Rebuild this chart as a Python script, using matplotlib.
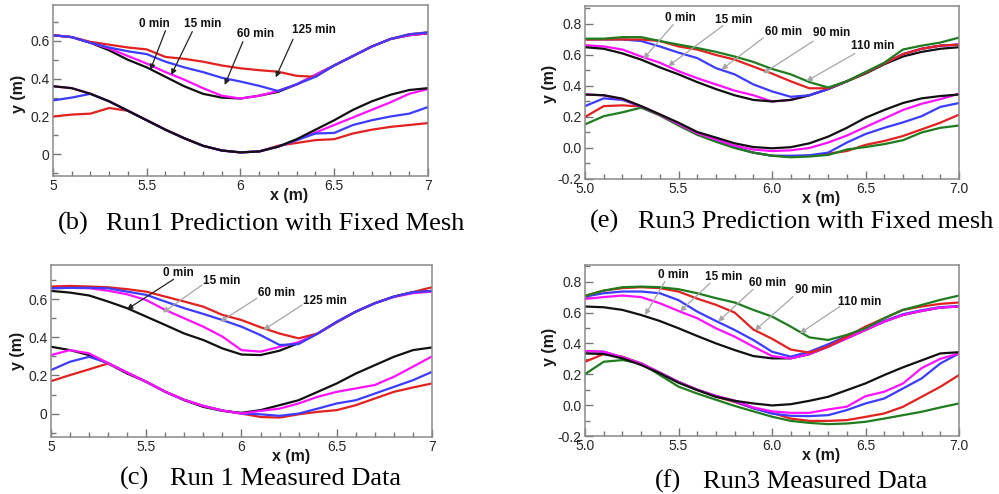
import matplotlib
matplotlib.use('Agg')
import matplotlib.pyplot as plt
from matplotlib.ticker import MultipleLocator, FuncFormatter

xs = [5.0, 5.1, 5.2, 5.3, 5.4, 5.5, 5.6, 5.7, 5.8, 5.9, 6.0,
      6.1, 6.2, 6.3, 6.4, 6.5, 6.6, 6.7, 6.8, 6.9, 7.0]

# ---- (b) Run1 prediction, fixed mesh ----
b_up_0 = [0.63, 0.62, 0.59, 0.55, 0.50, 0.46, 0.41, 0.36, 0.32, 0.30, 0.295, 0.31, 0.33, 0.37, 0.42, 0.47, 0.52, 0.57, 0.61, 0.63, 0.64]
b_up_15 = [0.63, 0.62, 0.59, 0.56, 0.52, 0.48, 0.435, 0.395, 0.35, 0.31, 0.295, 0.31, 0.335, 0.37, 0.42, 0.47, 0.52, 0.57, 0.61, 0.63, 0.64]
b_up_60 = [0.63, 0.62, 0.59, 0.565, 0.545, 0.53, 0.49, 0.46, 0.435, 0.405, 0.385, 0.362, 0.335, 0.37, 0.41, 0.47, 0.52, 0.57, 0.61, 0.635, 0.645]
b_up_125 = [0.63, 0.62, 0.595, 0.58, 0.565, 0.555, 0.515, 0.505, 0.49, 0.47, 0.455, 0.445, 0.437, 0.415, 0.41, 0.47, 0.52, 0.57, 0.61, 0.635, 0.645]
b_lo_0 = [0.36, 0.35, 0.32, 0.28, 0.23, 0.18, 0.13, 0.085, 0.045, 0.02, 0.01, 0.015, 0.04, 0.08, 0.13, 0.18, 0.235, 0.28, 0.315, 0.34, 0.35]
b_lo_15 = [0.36, 0.35, 0.32, 0.28, 0.23, 0.18, 0.13, 0.085, 0.045, 0.02, 0.01, 0.015, 0.04, 0.075, 0.115, 0.155, 0.195, 0.235, 0.275, 0.32, 0.345]
b_lo_60 = [0.285, 0.30, 0.32, 0.28, 0.23, 0.18, 0.13, 0.085, 0.045, 0.02, 0.01, 0.015, 0.04, 0.075, 0.11, 0.113, 0.155, 0.18, 0.20, 0.215, 0.25]
b_lo_125 = [0.20, 0.21, 0.215, 0.245, 0.23, 0.18, 0.13, 0.085, 0.045, 0.02, 0.01, 0.015, 0.045, 0.06, 0.075, 0.08, 0.11, 0.13, 0.145, 0.155, 0.165]

# ---- (e) Run3 prediction, fixed mesh ----
e_up_0 = [0.65, 0.64, 0.61, 0.57, 0.52, 0.475, 0.425, 0.38, 0.34, 0.31, 0.30, 0.31, 0.34, 0.38, 0.43, 0.48, 0.54, 0.59, 0.62, 0.64, 0.65]
e_up_15 = [0.663, 0.655, 0.635, 0.59, 0.55, 0.495, 0.45, 0.41, 0.37, 0.34, 0.30, 0.31, 0.34, 0.38, 0.43, 0.485, 0.545, 0.605, 0.64, 0.66, 0.667]
e_up_60 = [0.70, 0.70, 0.70, 0.69, 0.655, 0.615, 0.58, 0.515, 0.475, 0.41, 0.365, 0.33, 0.34, 0.38, 0.43, 0.485, 0.545, 0.605, 0.64, 0.66, 0.667]
e_up_90 = [0.70, 0.70, 0.70, 0.70, 0.69, 0.655, 0.635, 0.60, 0.57, 0.525, 0.48, 0.43, 0.385, 0.385, 0.43, 0.485, 0.545, 0.605, 0.64, 0.66, 0.667]
e_up_110 = [0.705, 0.705, 0.715, 0.715, 0.69, 0.667, 0.645, 0.62, 0.59, 0.555, 0.51, 0.475, 0.425, 0.39, 0.43, 0.49, 0.55, 0.635, 0.66, 0.68, 0.712]
e_lo_0 = [0.345, 0.34, 0.318, 0.27, 0.217, 0.163, 0.103, 0.067, 0.03, 0.006, -0.002, 0.005, 0.03, 0.073, 0.13, 0.195, 0.245, 0.29, 0.32, 0.335, 0.345]
e_lo_15 = [0.345, 0.34, 0.315, 0.268, 0.215, 0.155, 0.095, 0.055, 0.015, -0.01, -0.02, -0.015, 0.0, 0.035, 0.08, 0.135, 0.19, 0.245, 0.285, 0.315, 0.35]
e_lo_60 = [0.27, 0.32, 0.31, 0.268, 0.213, 0.15, 0.09, 0.045, 0.005, -0.03, -0.05, -0.05, -0.047, -0.03, 0.035, 0.09, 0.13, 0.165, 0.205, 0.265, 0.29]
e_lo_90 = [0.20, 0.27, 0.275, 0.268, 0.213, 0.15, 0.09, 0.045, 0.003, -0.03, -0.05, -0.055, -0.05, -0.037, -0.02, 0.02, 0.045, 0.077, 0.12, 0.163, 0.215]
e_lo_110 = [0.152, 0.205, 0.23, 0.26, 0.21, 0.145, 0.085, 0.04, 0.0, -0.03, -0.05, -0.06, -0.055, -0.045, -0.01, 0.006, 0.025, 0.05, 0.10, 0.13, 0.145]

# ---- (c) Run1 measured ----
c_up_0 = [0.644, 0.635, 0.62, 0.588, 0.553, 0.509, 0.465, 0.42, 0.386, 0.342, 0.31, 0.307, 0.33, 0.37, 0.42, 0.48, 0.535, 0.579, 0.614, 0.637, 0.644]
c_up_15 = [0.658, 0.66, 0.658, 0.645, 0.626, 0.596, 0.544, 0.50, 0.456, 0.404, 0.333, 0.325, 0.35, 0.375, 0.42, 0.48, 0.535, 0.579, 0.612, 0.632, 0.64]
c_up_60 = [0.658, 0.66, 0.66, 0.658, 0.64, 0.623, 0.588, 0.553, 0.523, 0.491, 0.456, 0.412, 0.36, 0.365, 0.42, 0.482, 0.535, 0.579, 0.614, 0.637, 0.644]
c_up_125 = [0.667, 0.67, 0.667, 0.663, 0.653, 0.64, 0.614, 0.588, 0.561, 0.518, 0.491, 0.453, 0.42, 0.395, 0.42, 0.48, 0.535, 0.58, 0.614, 0.638, 0.663]
c_lo_0 = [0.351, 0.333, 0.307, 0.263, 0.21, 0.167, 0.114, 0.07, 0.035, 0.014, 0.004, 0.018, 0.044, 0.07, 0.114, 0.158, 0.21, 0.254, 0.298, 0.333, 0.347]
c_lo_15 = [0.307, 0.333, 0.316, 0.265, 0.215, 0.167, 0.115, 0.072, 0.04, 0.016, 0.0, 0.014, 0.026, 0.053, 0.088, 0.114, 0.132, 0.15, 0.193, 0.246, 0.30]
c_lo_60 = [0.228, 0.272, 0.298, 0.265, 0.215, 0.167, 0.115, 0.072, 0.04, 0.016, 0.0, -0.004, -0.012, 0.0, 0.026, 0.053, 0.07, 0.105, 0.14, 0.175, 0.219]
c_lo_125 = [0.17, 0.202, 0.232, 0.263, 0.215, 0.167, 0.115, 0.072, 0.04, 0.016, 0.0, -0.018, -0.021, -0.004, 0.009, 0.018, 0.044, 0.079, 0.114, 0.137, 0.158]

# ---- (f) Run3 measured ----
f_up_0 = [0.639, 0.634, 0.617, 0.584, 0.545, 0.498, 0.448, 0.40, 0.357, 0.318, 0.303, 0.303, 0.33, 0.379, 0.433, 0.487, 0.541, 0.584, 0.61, 0.632, 0.639]
f_up_15 = [0.688, 0.70, 0.71, 0.70, 0.66, 0.61, 0.563, 0.498, 0.444, 0.379, 0.318, 0.303, 0.331, 0.379, 0.433, 0.487, 0.541, 0.584, 0.61, 0.632, 0.639]
f_up_60 = [0.703, 0.725, 0.736, 0.736, 0.725, 0.68, 0.606, 0.545, 0.487, 0.422, 0.346, 0.314, 0.346, 0.394, 0.448, 0.498, 0.545, 0.589, 0.615, 0.635, 0.642]
f_up_90 = [0.708, 0.742, 0.758, 0.764, 0.758, 0.736, 0.69, 0.65, 0.60, 0.49, 0.43, 0.36, 0.34, 0.379, 0.444, 0.509, 0.563, 0.617, 0.639, 0.656, 0.665]
f_up_110 = [0.708, 0.742, 0.764, 0.768, 0.764, 0.751, 0.725, 0.693, 0.665, 0.617, 0.574, 0.509, 0.439, 0.422, 0.455, 0.498, 0.563, 0.617, 0.649, 0.682, 0.71]
f_lo_0 = [0.335, 0.331, 0.303, 0.26, 0.206, 0.145, 0.097, 0.054, 0.028, 0.011, -0.002, 0.006, 0.028, 0.054, 0.097, 0.141, 0.195, 0.245, 0.29, 0.335, 0.343]
f_lo_15 = [0.35, 0.346, 0.31, 0.27, 0.21, 0.15, 0.10, 0.06, 0.03, -0.015, -0.04, -0.05, -0.05, -0.028, -0.01, 0.058, 0.087, 0.14, 0.24, 0.30, 0.335]
f_lo_60 = [0.35, 0.346, 0.31, 0.27, 0.21, 0.15, 0.10, 0.06, 0.025, -0.02, -0.055, -0.069, -0.071, -0.065, -0.032, 0.011, 0.043, 0.108, 0.173, 0.27, 0.335]
f_lo_90 = [0.281, 0.331, 0.314, 0.27, 0.21, 0.15, 0.10, 0.055, 0.02, -0.02, -0.05, -0.087, -0.102, -0.102, -0.097, -0.076, -0.054, -0.011, 0.054, 0.119, 0.195]
f_lo_110 = [0.201, 0.281, 0.292, 0.27, 0.195, 0.12, 0.075, 0.035, -0.005, -0.04, -0.075, -0.102, -0.115, -0.123, -0.119, -0.108, -0.087, -0.065, -0.043, -0.015, 0.011]

# annotation labels, text centres, arrow tails and tips (data coords)
b_labels = ['0 min', '15 min', '60 min', '125 min']
b_text = [(5.54, 0.69), (5.80, 0.69), (6.08, 0.637), (6.39, 0.658)]
b_tail = [(5.60, 0.654), (5.743, 0.649), (6.013, 0.596), (6.28, 0.608)]
b_tip = [(5.519, 0.446), (5.631, 0.42), (5.916, 0.367), (6.188, 0.407)]

e_labels = ['0 min', '15 min', '60 min', '90 min', '110 min']
e_text = [(5.508, 0.839), (5.793, 0.828), (6.06, 0.747), (6.318, 0.742), (6.54, 0.661)]
e_tail = [(5.472, 0.796), (5.739, 0.79), (5.953, 0.71), (6.22, 0.689), (6.443, 0.609)]
e_tip = [(5.312, 0.575), (5.445, 0.528), (5.73, 0.506), (5.953, 0.481), (6.184, 0.431)]

c_labels = ['0 min', '15 min', '60 min', '125 min']
c_text = [(5.67, 0.737), (5.898, 0.698), (6.183, 0.632), (6.44, 0.593)]
c_tail = [(5.644, 0.705), (5.793, 0.675), (6.081, 0.605), (6.318, 0.57)]
c_tip = [(5.399, 0.547), (5.588, 0.53), (5.889, 0.482), (6.116, 0.439)]

f_labels = ['0 min', '15 min', '60 min', '90 min', '110 min']
f_text = [(5.472, 0.844), (5.739, 0.833), (5.976, 0.79), (6.22, 0.747), (6.469, 0.671)]
f_tail = [(5.427, 0.80), (5.668, 0.79), (5.899, 0.751), (6.113, 0.703), (6.362, 0.639)]
f_tip = [(5.321, 0.584), (5.508, 0.606), (5.712, 0.541), (5.908, 0.483), (6.149, 0.465)]

RED = '#e3211f'
BLUE = '#3c3cff'
MAG = '#ff10ff'
GRN = '#1f7d1f'
BLK = '#111111'
ARW_DARK = '#222222'
ARW_GRAY = '#a6a6a6'

SANS = 'Liberation Sans'
SERIF = 'Liberation Serif'


def setup(ax, ylim, dec):
    ax.set_xlim(5, 7)
    ax.set_ylim(*ylim)
    ax.xaxis.set_major_locator(MultipleLocator(0.5))
    ax.xaxis.set_minor_locator(MultipleLocator(0.1))
    ax.yaxis.set_major_locator(MultipleLocator(0.2))
    ax.yaxis.set_minor_locator(MultipleLocator(0.1))
    if dec:
        fmt = FuncFormatter(lambda v, p: '%.1f' % v)
    else:
        fmt = FuncFormatter(lambda v, p: '%g' % round(v, 2))
    ax.xaxis.set_major_formatter(fmt)
    ax.yaxis.set_major_formatter(fmt)
    ax.tick_params(which='both', direction='in', top=False, right=False, color='#777777', width=1)
    ax.tick_params(which='major', length=6, labelsize=10, labelcolor='#262626', pad=2.5)
    ax.tick_params(which='minor', length=3.5)
    for lab in ax.get_xticklabels() + ax.get_yticklabels():
        lab.set_fontfamily(SANS)
    for s in ax.spines.values():
        s.set_color('#8a8a8a')
        s.set_linewidth(1.1)
    ax.text(0.63, -0.115, 'x (m)', transform=ax.transAxes, ha='center', va='center',
            fontsize=11.5, fontweight='bold', family=SANS, color='#1a1a1a')


def draw(ax, order):
    for y, c in order:
        ax.plot(xs, y, color=c, lw=1.6, solid_capstyle='butt')


def notes(ax, labels, texts, tails, tips, colors):
    for lab, t, a, p, c in zip(labels, texts, tails, tips, colors):
        ax.annotate('', xy=p, xytext=a,
                    arrowprops=dict(arrowstyle='-|>', color=c, lw=0.9,
                                    shrinkA=0, shrinkB=0, mutation_scale=8))
        ax.text(t[0], t[1], lab, ha='center', va='center', fontsize=8.5,
                fontweight='bold', family=SANS, color='#111111')


fig = plt.figure(figsize=(9.99, 4.94), dpi=100)

# (b)
ax = fig.add_axes([0.053, 0.6437, 0.3754, 0.3462])
setup(ax, (-0.115, 0.79), False)
draw(ax, [(b_lo_125, RED), (b_lo_15, MAG), (b_lo_60, BLUE), (b_lo_0, BLK),
          (b_up_0, BLK), (b_up_15, MAG), (b_up_125, RED), (b_up_60, BLUE)])
notes(ax, b_labels, b_text, b_tail, b_tip, [ARW_DARK] * 4)
ax.text(-0.093, 0.48, 'y (m)', transform=ax.transAxes, rotation=90, ha='center', va='center',
        fontsize=11.5, fontweight='bold', family=SANS, color='#1a1a1a')

# (e)
ax = fig.add_axes([0.5856, 0.6377, 0.3744, 0.3502])
setup(ax, (-0.2, 0.916), True)
draw(ax, [(e_lo_90, RED), (e_lo_60, BLUE), (e_lo_110, GRN), (e_lo_15, MAG), (e_lo_0, BLK),
          (e_up_15, MAG), (e_up_0, BLK), (e_up_60, BLUE), (e_up_90, RED), (e_up_110, GRN)])
notes(ax, e_labels, e_text, e_tail, e_tip, [ARW_GRAY] * 5)
ax.text(-0.094, 0.55, 'y (m)', transform=ax.transAxes, rotation=90, ha='center', va='center',
        fontsize=11.5, fontweight='bold', family=SANS, color='#1a1a1a')

# (c)
ax = fig.add_axes([0.051, 0.1154, 0.3814, 0.3482])
setup(ax, (-0.123, 0.78), False)
draw(ax, [(c_lo_0, BLK), (c_lo_125, RED), (c_lo_60, BLUE), (c_lo_15, MAG),
          (c_up_0, BLK), (c_up_15, MAG), (c_up_125, RED), (c_up_60, BLUE)])
notes(ax, c_labels, c_text, c_tail, c_tip, [ARW_DARK] + [ARW_GRAY] * 3)
ax.text(-0.087, 0.5, 'y (m)', transform=ax.transAxes, rotation=90, ha='center', va='center',
        fontsize=11.5, fontweight='bold', family=SANS, color='#1a1a1a')

# (f)
ax = fig.add_axes([0.5856, 0.1174, 0.3744, 0.3462])
setup(ax, (-0.2, 0.908), True)
draw(ax, [(f_lo_90, RED), (f_lo_60, BLUE), (f_lo_110, GRN), (f_lo_15, MAG), (f_lo_0, BLK),
          (f_up_0, BLK), (f_up_60, BLUE), (f_up_15, MAG), (f_up_90, RED), (f_up_110, GRN)])
notes(ax, f_labels, f_text, f_tail, f_tip, [ARW_GRAY] * 5)
ax.text(-0.094, 0.52, 'y (m)', transform=ax.transAxes, rotation=90, ha='center', va='center',
        fontsize=11.5, fontweight='bold', family=SANS, color='#1a1a1a')

# captions
caps = [('(b)', 'Run1 Prediction with Fixed Mesh', 58, 106, 230),
        ('(e)', 'Run3 Prediction with Fixed mesh', 590, 638, 228),
        ('(c)', 'Run 1 Measured Data', 120, 170, 485),
        ('(f)', 'Run3 Measured Data', 655, 703, 488)]
W, H = 999.0, 494.0
for tag, txt, x0, x1, yb in caps:
    fig.text(x0 / W, 1 - yb / H, tag, ha='left', va='baseline', fontsize=19, family=SERIF)
    fig.text(x1 / W, 1 - yb / H, txt, ha='left', va='baseline', fontsize=19, family=SERIF)

fig.savefig('out.png', dpi=100)
